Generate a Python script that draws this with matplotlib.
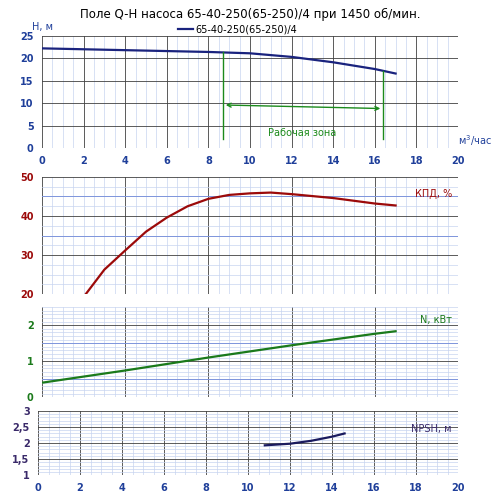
import matplotlib.pyplot as plt
import numpy as np
from matplotlib.ticker import MultipleLocator, FuncFormatter, NullLocator

# Q-H curve
q_h = [0, 2, 4, 6, 8, 10, 12, 14, 16, 17]
h = [22.2, 22.0, 21.8, 21.6, 21.4, 21.1, 20.3, 19.1, 17.6, 16.6]
# efficiency
q_eff = [2.1, 3, 4, 5, 6, 7, 8, 9, 10, 11, 12, 13, 14, 15, 16, 17]
eff = [20, 26.3, 31.2, 36.0, 39.6, 42.5, 44.4, 45.4, 45.8, 46.0, 45.6, 45.1, 44.6, 43.9, 43.2, 42.7]
# power
q_n = [0, 2, 4, 6, 8, 10, 12, 14, 16, 17]
power = [0.40, 0.57, 0.74, 0.92, 1.10, 1.27, 1.44, 1.60, 1.76, 1.83]
# NPSH
q_npsh = [10.8, 12, 13, 14, 14.6]
npsh = [1.93, 1.98, 2.07, 2.20, 2.30]
work_zone = [8.7, 16.4]

BLUE = '#1f3f9a'
MAJ = '#404040'
MIN = '#c8d4f0'
MID = '#7f95dc'

fig = plt.figure(figsize=(5, 4.97), dpi=100)
plt.rcParams['font.family'] = ['DejaVu Sans']
plt.rcParams['font.size'] = 7

def grid(ax, xmaj, ymaj, ymin, ymid=None):
    ax.set_xlim(0, 20)
    ax.xaxis.set_major_locator(MultipleLocator(xmaj))
    ax.xaxis.set_minor_locator(MultipleLocator(0.5))
    ax.yaxis.set_major_locator(MultipleLocator(ymaj))
    ax.yaxis.set_minor_locator(MultipleLocator(ymin) if ymin else NullLocator())
    ax.grid(which='minor', color=MIN, lw=0.5)
    ax.grid(which='major', color=MAJ, lw=0.6)
    if ymid:
        for y in ymid:
            ax.axhline(y, color=MID, lw=0.7, zorder=1)
    for s in ax.spines.values():
        s.set_visible(False)
    ax.tick_params(length=0, which='both', labelsize=7, pad=6)
    ax.set_axisbelow(True)

# panel 1
ax1 = fig.add_axes([0.084, 0.702, 0.832, 0.226])
grid(ax1, 2, 5, None)
ax1.set_ylim(0, 25)
ax1.plot(q_h, h, color='#1a237e', lw=1.6, label='65-40-250(65-250)/4')
for x in work_zone:
    ax1.plot([x, x], [2, np.interp(x, q_h, h)], color='#1b8a1b', lw=1)
ax1.annotate('', xy=(work_zone[0], 9.6), xytext=(work_zone[1], 8.8),
             arrowprops=dict(arrowstyle='<->', color='#1b8a1b', lw=1))
ax1.text(12.5, 2.8, 'Рабочая зона', color='#1b8a1b', ha='center', fontsize=7)
ax1.tick_params(colors=BLUE)
for t in ax1.get_xticklabels() + ax1.get_yticklabels():
    t.set_fontweight('bold')
ax1.text(0, 1.03, 'H, м', transform=ax1.transAxes, color=BLUE, fontsize=7, ha='center', va='bottom')
ax1.text(1.0, 0.0, 'м$^3$/час', transform=ax1.transAxes, color=BLUE, fontsize=7, ha='left', va='bottom')
ax1.legend(loc='lower center', bbox_to_anchor=(0.47, 0.97), frameon=False, fontsize=7,
           handlelength=1.5, handletextpad=0.2, borderpad=0)
fig.text(0.5, 0.985, 'Поле Q-H насоса 65-40-250(65-250)/4 при 1450 об/мин.', ha='center', va='top', fontsize=8.5)

# panel 2
ax2 = fig.add_axes([0.084, 0.408, 0.832, 0.236])
grid(ax2, 4, 10, 2.5, ymid=[35, 45])
ax2.set_ylim(20, 50)
ax2.plot(q_eff, eff, color='#9c0a0a', lw=1.6)
ax2.set_xticklabels([])
ax2.tick_params(axis='y', colors='#9c0a0a')
for t in ax2.get_yticklabels():
    t.set_fontweight('bold')
ax2.text(0.985, 0.83, 'КПД, %', transform=ax2.transAxes, color='#9c0a0a', ha='right', fontsize=7)

# panel 3
ax3 = fig.add_axes([0.084, 0.201, 0.832, 0.181])
grid(ax3, 4, 1, 0.1, ymid=[0.5, 1.5])
ax3.set_ylim(0, 2.5)
ax3.plot(q_n, power, color='#1b7a1b', lw=1.6)
ax3.set_xticklabels([])
ax3.tick_params(axis='y', colors='#1b7a1b')
for t in ax3.get_yticklabels():
    t.set_fontweight('bold')
ax3.text(0.985, 0.82, 'N, кВт', transform=ax3.transAxes, color='#1b7a1b', ha='right', fontsize=7)

# panel 4
ax4 = fig.add_axes([0.076, 0.044, 0.84, 0.129])
grid(ax4, 2, 0.5, 0.1)
ax4.set_ylim(1, 3)
ax4.plot(q_npsh, npsh, color='#1a1a5e', lw=1.6)
ax4.yaxis.set_major_formatter(FuncFormatter(lambda v, p: f'{v:g}'.replace('.', ',')))
ax4.tick_params(axis='y', colors='#3a2a6a')
ax4.tick_params(axis='x', colors=BLUE)
for t in ax4.get_xticklabels() + ax4.get_yticklabels():
    t.set_fontweight('bold')
ax4.text(0.985, 0.68, 'NPSH, м', transform=ax4.transAxes, color='#3a2a6a', ha='right', fontsize=7)

fig.savefig('out.png', dpi=100)
